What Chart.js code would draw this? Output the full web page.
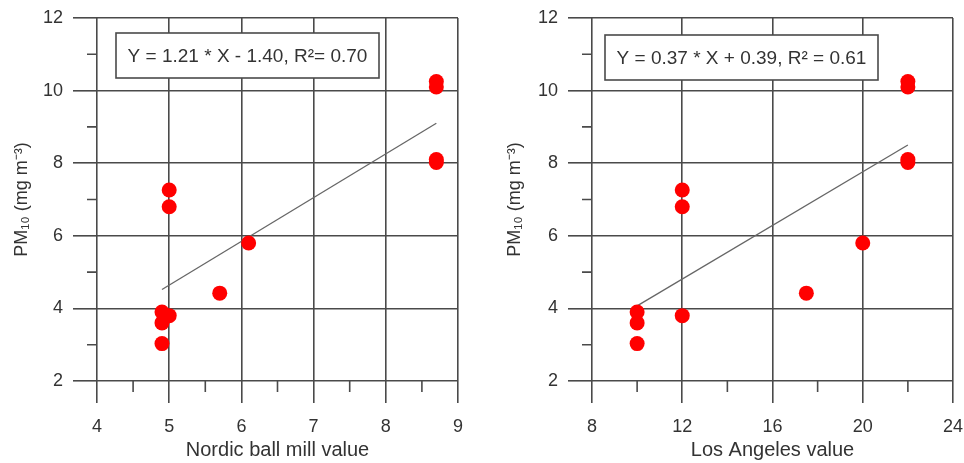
<!DOCTYPE html>
<html>
<head>
<meta charset="utf-8">
<script src="https://cdn.jsdelivr.net/npm/chart.js@4.4.1/dist/chart.umd.min.js"></script>
<style>
  html, body { margin: 0; padding: 0; background: #fff; }
  #wrap { position: relative; width: 964px; height: 463px; }
  .box { position: absolute; top: 0; height: 463px; }
</style>
</head>
<body>
<div id="wrap">
  <div class="box" style="left:0;width:472px"><canvas id="nordic"></canvas></div>
  <div class="box" style="left:480px;width:484px"><canvas id="la"></canvas></div>
</div>
<script>
// valores
const pm10 = [10.25, 10.1, 8.1, 8.02, 7.26, 6.8, 5.8, 4.42, 3.9, 3.8, 3.6, 3.03];
const nordicX = [8.7, 8.7, 8.7, 8.7, 5.0, 5.0, 6.1, 5.7, 4.9, 5.0, 4.9, 4.9];
const laX = [22, 22, 22, 22, 12, 12, 20, 17.5, 10, 12, 10, 10];

// rectas de regresion (extremos)
const nordicFitX = [4.9, 8.7];
const nordicFitY = [4.52, 9.1];
const laFitX = [10, 22];
const laFitY = [4.07, 8.5];

// ticks
const yTicks = [2, 4, 6, 8, 10, 12];
const yMinor = [3, 5, 7, 9, 11];
const nordicTicks = [4, 5, 6, 7, 8, 9];
const nordicMinor = [4.5, 5.5, 6.5, 7.5, 8.5];
const laTicks = [8, 12, 16, 20, 24];
const laMinor = [10, 14, 18, 22];

const nordicEq = "Y = 1.21 * X - 1.40, R\u00b2= 0.70";
const laEq = "Y = 0.37 * X + 0.39, R\u00b2 = 0.61";

Chart.defaults.font.family = "'Liberation Sans', Arial, sans-serif";
Chart.defaults.color = "#333";

const GRID = "#4a4a4a";

const minorTicksPlugin = {
  id: "minorTicks",
  afterDraw(chart, args, o) {
    const ctx = chart.ctx;
    const area = chart.chartArea;
    const xs = chart.scales.x, ys = chart.scales.y;
    ctx.save();
    ctx.strokeStyle = GRID;
    ctx.lineWidth = 1.6;
    ctx.beginPath();
    o.x.forEach(v => {
      const px = xs.getPixelForValue(v);
      ctx.moveTo(px, area.bottom);
      ctx.lineTo(px, area.bottom + o.xLen);
    });
    o.y.forEach(v => {
      const py = ys.getPixelForValue(v);
      ctx.moveTo(area.left - o.yLen, py);
      ctx.lineTo(area.left, py);
    });
    ctx.stroke();
    ctx.restore();
  }
};

const eqBoxPlugin = {
  id: "eqBox",
  afterDraw(chart, args, o) {
    const ctx = chart.ctx;
    const area = chart.chartArea;
    const x = area.left + o.dx, y = area.top + o.dy;
    ctx.save();
    ctx.fillStyle = "#fff";
    ctx.fillRect(x, y, o.w, o.h);
    ctx.strokeStyle = GRID;
    ctx.lineWidth = 1.6;
    ctx.strokeRect(x, y, o.w, o.h);
    ctx.fillStyle = "#333";
    ctx.font = "19px 'Liberation Sans', Arial, sans-serif";
    ctx.textAlign = "center";
    ctx.textBaseline = "middle";
    ctx.fillText(o.text, x + o.w / 2, y + o.h / 2 + 1);
    ctx.restore();
  }
};

function makeChart(id, c) {
  const ctx = document.getElementById(id).getContext("2d");
  return new Chart(ctx, {
    type: "scatter",
    data: {
      datasets: [{
        data: c.xs.map((v, i) => ({ x: v, y: pm10[i] })),
        backgroundColor: "#ff0000",
        borderWidth: 0,
        pointRadius: 7.5,
        pointHoverRadius: 7.5
      }, {
        data: c.fitX.map((v, i) => ({ x: v, y: c.fitY[i] })),
        showLine: true,
        borderColor: "#666",
        borderWidth: 1.3,
        pointRadius: 0
      }]
    },
    options: {
      responsive: true,
      maintainAspectRatio: false,
      animation: false,
      events: [],
      layout: { padding: { left: 0, right: c.padRight, top: 18, bottom: 0 } },
      plugins: {
        legend: { display: false },
        tooltip: { enabled: false },
        minorTicks: { x: c.minor, y: yMinor, xLen: 11, yLen: 10 },
        eqBox: c.box
      },
      scales: {
        x: {
          type: "linear",
          min: c.min,
          max: c.max,
          afterBuildTicks: s => { s.ticks = c.ticks.map(v => ({ value: v })); },
          afterFit: s => { s.height = 82; s.paddingLeft = 0; s.paddingRight = 0; },
          grid: { color: GRID, lineWidth: 1.6, tickLength: 22, tickColor: GRID },
          border: { display: false },
          ticks: { font: { size: 18 }, padding: 13, color: "#333" },
          title: { display: true, text: c.title, font: { size: 20 }, color: "#333", padding: { top: 0, bottom: 1 } }
        },
        y: {
          type: "linear",
          min: 2,
          max: 12,
          afterBuildTicks: s => { s.ticks = yTicks.map(v => ({ value: v })); },
          afterFit: s => { s.width = c.yWidth; s.paddingTop = 0; s.paddingBottom = 0; },
          grid: { color: GRID, lineWidth: 1.6, tickLength: 24, tickColor: GRID },
          border: { display: false },
          ticks: { font: { size: 18 }, padding: 10, color: "#333" },
          title: { display: true, text: "PM\u2081\u2080 (mg m\u207b\u00b3)", font: { size: 18 }, color: "#333", padding: { top: c.titlePad, bottom: 0 } }
        }
      }
    },
    plugins: [minorTicksPlugin, eqBoxPlugin]
  });
}

makeChart("nordic", {
  xs: nordicX, fitX: nordicFitX, fitY: nordicFitY,
  min: 4, max: 9, ticks: nordicTicks, minor: nordicMinor,
  title: "Nordic ball mill value",
  padRight: 14, yWidth: 97, titlePad: 11,
  box: { text: nordicEq, dx: 19, dy: 15, w: 263, h: 45 }
});

makeChart("la", {
  xs: laX, fitX: laFitX, fitY: laFitY,
  min: 8, max: 24, ticks: laTicks, minor: laMinor,
  title: "Los Angeles value",
  padRight: 11, yWidth: 112, titlePad: 24,
  box: { text: laEq, dx: 13, dy: 17, w: 273, h: 45 }
});
</script>
</body>
</html>
